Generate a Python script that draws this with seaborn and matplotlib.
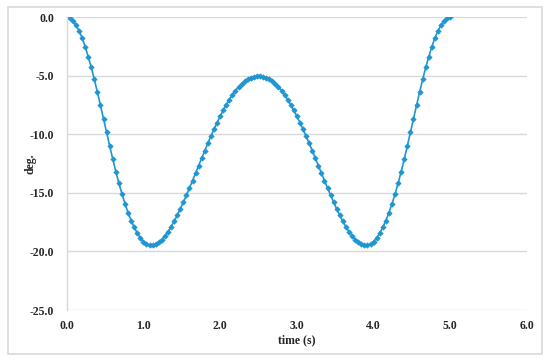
import numpy as np
import pandas as pd
import matplotlib.pyplot as plt
import seaborn as sns
from matplotlib.patches import Rectangle

# sample times (s), 0.04 s step from 0 to 5
time_s = np.linspace(0.0, 5.0, 126)

# angle (deg.)
angle_deg = [
    0.00, -0.08, -0.30, -0.66, -1.14, -1.75, -2.50, -3.35, -4.28, -5.30,
    -6.40, -7.52, -8.67, -9.83, -10.98, -12.10, -13.17, -14.17, -15.09, -15.93,
    -16.69, -17.36, -17.94, -18.43, -18.84, -19.15, -19.36, -19.47, -19.45, -19.36,
    -19.20, -18.98, -18.68, -18.32, -17.90, -17.43, -16.92, -16.38, -15.80, -15.20,
    -14.58, -13.95, -13.31, -12.66, -12.02, -11.38, -10.76, -10.15, -9.56, -8.99,
    -8.45, -7.94, -7.46, -7.02, -6.62, -6.26, -5.95, -5.68, -5.46, -5.29,
    -5.16, -5.08, -5.05,
    -5.05, -5.08, -5.16, -5.29, -5.46, -5.68, -5.95, -6.26, -6.62, -7.02,
    -7.46, -7.94, -8.45, -8.99, -9.56, -10.15, -10.76, -11.38, -12.02, -12.66,
    -13.31, -13.95, -14.58, -15.20, -15.80, -16.38, -16.92, -17.43, -17.90, -18.32,
    -18.68, -18.98, -19.20, -19.36, -19.45, -19.47, -19.36, -19.15, -18.84, -18.43,
    -17.94, -17.36, -16.69, -15.93, -15.09, -14.17, -13.17, -12.10, -10.98, -9.83,
    -8.67, -7.52, -6.40, -5.30, -4.28, -3.35, -2.50, -1.75, -1.14, -0.66,
    -0.30, -0.08, 0.00,
]

x_ticks = [0, 1, 2, 3, 4, 5, 6]
y_ticks = [0, -5, -10, -15, -20, -25]

df = pd.DataFrame({"time": time_s, "deg": angle_deg})

sns.set_style("white")
plt.rcParams["font.family"] = ["Liberation Serif", "DejaVu Serif"]

fig = plt.figure(figsize=(5.5, 3.63), dpi=100)
ax = fig.add_axes([0.1213, 0.146, 0.9582 - 0.1213, 0.9523 - 0.146])

# outer chart-area border
fig.patches.append(Rectangle((8 / 550, 1 - 354 / 363), 534 / 550, 347 / 363,
                             transform=fig.transFigure, fill=False,
                             edgecolor="#d9d9d9", linewidth=1.2))

sns.lineplot(data=df, x="time", y="deg", ax=ax, color="#1e96d2",
             linewidth=1.2, marker="D", markersize=2.8,
             markeredgewidth=0.4, markeredgecolor="#1e96d2")

ax.set_xlim(0, 6)
ax.set_ylim(-25, 0)
ax.set_xticks(x_ticks)
ax.set_yticks(y_ticks)
ax.set_xticklabels([f"{v:.1f}" for v in x_ticks])
ax.set_yticklabels([f"{v:.1f}" for v in y_ticks])

ax.yaxis.grid(True, color="#d9d9d9", linewidth=1.0)
ax.xaxis.grid(False)
for side in ["top", "right", "bottom"]:
    ax.spines[side].set_visible(False)
ax.spines["left"].set_color("#d9d9d9")
ax.spines["left"].set_linewidth(1.0)

ax.tick_params(axis="y", length=3, color="#d9d9d9", pad=6,
               labelsize=8.5)
ax.tick_params(axis="x", length=0, pad=7, labelsize=8.5)
for lbl in ax.get_xticklabels() + ax.get_yticklabels():
    lbl.set_fontweight("bold")

ax.set_xlabel("time (s)", fontsize=8.5, fontweight="bold", labelpad=2)
ax.set_ylabel("deg.", fontsize=8.5, fontweight="bold")
ax.yaxis.set_label_coords(-0.066, 0.5)

fig.savefig("out.png", dpi=100)
plt.close(fig)
